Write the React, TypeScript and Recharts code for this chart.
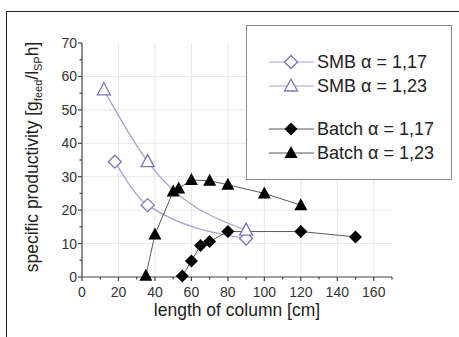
import { LineChart, Line, XAxis, YAxis, CartesianGrid, Legend } from "recharts";

// column length [cm] and specific productivity values
const smb117X = [18, 36, 90];
const smb117Y = [34.5, 21.5, 11.5];
const smb123X = [12, 36, 90];
const smb123Y = [56, 34.5, 14];
const batch117X = [55, 60, 65, 70, 80, 120, 150];
const batch117Y = [0.3, 4.8, 9.4, 10.6, 13.6, 13.6, 12];
const batch123X = [35, 40, 50, 53, 60, 70, 80, 100, 120];
const batch123Y = [0.4, 12.7, 25.6, 26.5, 29, 28.8, 27.6, 25, 21.5];

const xTicks = [0, 10, 20, 30, 40, 50, 60, 70, 80, 90, 100, 110, 120, 130, 140, 150, 160, 170];
const yTicks = [0, 5, 10, 15, 20, 25, 30, 35, 40, 45, 50, 55, 60, 65, 70];
const xGrid = [20, 40, 60, 80, 100, 120, 140, 160];
const yGrid = [10, 20, 30, 40, 50, 60];

const legendNames = ["SMB α = 1,17", "SMB α = 1,23", "Batch α = 1,17", "Batch α = 1,23"];

const toPoints = (xs: number[], ys: number[]) => xs.map((x, i) => ({ x, y: ys[i] }));

const FONT = "'Liberation Sans', Arial, Helvetica, sans-serif";
const SMB_LINE = "#aaa2cf";
const SMB_MARK = "#7e73b6";
const BATCH_LINE = "#5a5a5a";

function Marker({ kind, cx, cy }: { kind: string; cx: number; cy: number }) {
  if (kind === "openDiamond")
    return (
      <polygon
        points={`${cx},${cy - 6.5} ${cx + 6.5},${cy} ${cx},${cy + 6.5} ${cx - 6.5},${cy}`}
        fill="#fff"
        stroke={SMB_MARK}
        strokeWidth={1.3}
      />
    );
  if (kind === "openTriangle")
    return (
      <polygon
        points={`${cx},${cy - 7} ${cx + 6.5},${cy + 5} ${cx - 6.5},${cy + 5}`}
        fill="#fff"
        stroke={SMB_MARK}
        strokeWidth={1.3}
      />
    );
  if (kind === "diamond")
    return (
      <polygon
        points={`${cx},${cy - 6.5} ${cx + 6.5},${cy} ${cx},${cy + 6.5} ${cx - 6.5},${cy}`}
        fill="#000"
      />
    );
  return <polygon points={`${cx},${cy - 7} ${cx + 6.5},${cy + 5} ${cx - 6.5},${cy + 5}`} fill="#000" />;
}

const dotOf = (kind: string) => (props: any) =>
  <Marker key={`${kind}-${props.index}`} kind={kind} cx={props.cx} cy={props.cy} />;

const XTick = (props: any) => {
  const { x, y, payload } = props;
  const major = payload.value % 20 === 0 && payload.value <= 160;
  return (
    <g>
      <line x1={x} x2={x} y1={y} y2={y + (major ? 4 : 2.5)} stroke="#444" strokeWidth={1.2} />
      {major && (
        <text x={x} y={y + 20} textAnchor="middle" fontSize={14} fill="#333" fontFamily={FONT}>
          {payload.value}
        </text>
      )}
    </g>
  );
};

const YTick = (props: any) => {
  const { x, y, payload } = props;
  const major = payload.value % 10 === 0;
  return (
    <g>
      <line x1={x - (major ? 4 : 2.5)} x2={x} y1={y} y2={y} stroke="#444" strokeWidth={1.2} />
      {major && (
        <text x={x - 5} y={y + 5} textAnchor="end" fontSize={14} fill="#333" fontFamily={FONT}>
          {payload.value}
        </text>
      )}
    </g>
  );
};

const YLabel = (props: any) => {
  const vb = props.viewBox;
  const cx = vb.x - 4;
  const cy = vb.y + vb.height / 2 - 3;
  return (
    <text
      x={cx}
      y={cy}
      transform={`rotate(-90 ${cx} ${cy})`}
      textAnchor="middle"
      fontSize={17.5}
      fill="#222"
      fontFamily={FONT}
    >
      specific productivity [g
      <tspan fontSize={11} dy={4}>feed</tspan>
      <tspan dy={-4}>/l</tspan>
      <tspan fontSize={11} dy={4}>SP</tspan>
      <tspan dy={-4}>h]</tspan>
    </text>
  );
};

const XLabel = (props: any) => {
  const vb = props.viewBox;
  return (
    <text
      x={vb.x + vb.width / 2}
      y={vb.y + 39}
      textAnchor="middle"
      fontSize={17.5}
      fill="#222"
      fontFamily={FONT}
    >
      length of column [cm]
    </text>
  );
};

const legendKinds = ["openDiamond", "openTriangle", "diamond", "triangle"];
const legendRowTop = [36, 60, 103, 127];

const LegendBox = () => (
  <div style={{ position: "relative", width: 204, height: 153 }}>
    {legendNames.map((name, i) => {
      const smb = i < 2;
      return (
        <div key={name} style={{ position: "absolute", left: 0, top: legendRowTop[i] - 12, height: 24, width: 204 }}>
          <svg width={50} height={24} style={{ position: "absolute", left: 20, top: 0 }}>
            <line x1={2} x2={47} y1={12} y2={12} stroke={smb ? SMB_LINE : BATCH_LINE} strokeWidth={1.2} />
            <Marker kind={legendKinds[i]} cx={24} cy={12} />
          </svg>
          <span
            style={{
              position: "absolute",
              left: 70,
              top: 1,
              fontSize: 18,
              lineHeight: "22px",
              fontFamily: FONT,
              color: "#222",
              whiteSpace: "nowrap",
            }}
          >
            {name}
          </span>
        </div>
      );
    })}
  </div>
);

export default function App() {
  return (
    <div style={{ position: "absolute", left: 0, top: 0, width: 459, height: 337, background: "#fff" }}>
      <div
        style={{
          position: "absolute",
          left: 6,
          top: 11,
          width: 460,
          height: 330,
          borderLeft: "1.5px solid #222",
          borderTop: "1.5px solid #222",
        }}
      />
      <LineChart width={459} height={337} margin={{ top: 43, right: 67, bottom: 30, left: 42 }}>
        <CartesianGrid
          stroke="#e8e8e8"
          strokeWidth={1}
          verticalValues={xGrid}
          horizontalValues={yGrid}
        />
        <XAxis
          type="number"
          dataKey="x"
          domain={[0, 170]}
          ticks={xTicks}
          interval={0}
          height={30}
          tickSize={0}
          tickMargin={0}
          tickLine={false}
          tick={XTick}
          axisLine={{ stroke: "#444", strokeWidth: 1.2 }}
          allowDuplicatedCategory={false}
          label={{ content: XLabel }}
        />
        <YAxis
          type="number"
          dataKey="y"
          domain={[0, 70]}
          ticks={yTicks}
          interval={0}
          width={40}
          tickSize={0}
          tickMargin={0}
          tickLine={false}
          tick={YTick}
          axisLine={{ stroke: "#444", strokeWidth: 1.2 }}
          label={{ content: YLabel }}
        />
        <Legend
          layout="vertical"
          align="center"
          verticalAlign="middle"
          content={LegendBox}
          wrapperStyle={{
            left: 246,
            top: 25,
            width: 204,
            height: 153,
            border: "1px solid #8a8a8a",
            background: "#fff",
          }}
        />
        <Line
          data={toPoints(smb117X, smb117Y)}
          dataKey="y"
          type="monotone"
          stroke={SMB_LINE}
          strokeWidth={1.3}
          dot={dotOf("openDiamond")}
          activeDot={false}
          isAnimationActive={false}
        />
        <Line
          data={toPoints(smb123X, smb123Y)}
          dataKey="y"
          type="monotone"
          stroke={SMB_LINE}
          strokeWidth={1.3}
          dot={dotOf("openTriangle")}
          activeDot={false}
          isAnimationActive={false}
        />
        <Line
          data={toPoints(batch117X, batch117Y)}
          dataKey="y"
          type="linear"
          stroke={BATCH_LINE}
          strokeWidth={1}
          dot={dotOf("diamond")}
          activeDot={false}
          isAnimationActive={false}
        />
        <Line
          data={toPoints(batch123X, batch123Y)}
          dataKey="y"
          type="linear"
          stroke={BATCH_LINE}
          strokeWidth={1}
          dot={dotOf("triangle")}
          activeDot={false}
          isAnimationActive={false}
        />
      </LineChart>
    </div>
  );
}
